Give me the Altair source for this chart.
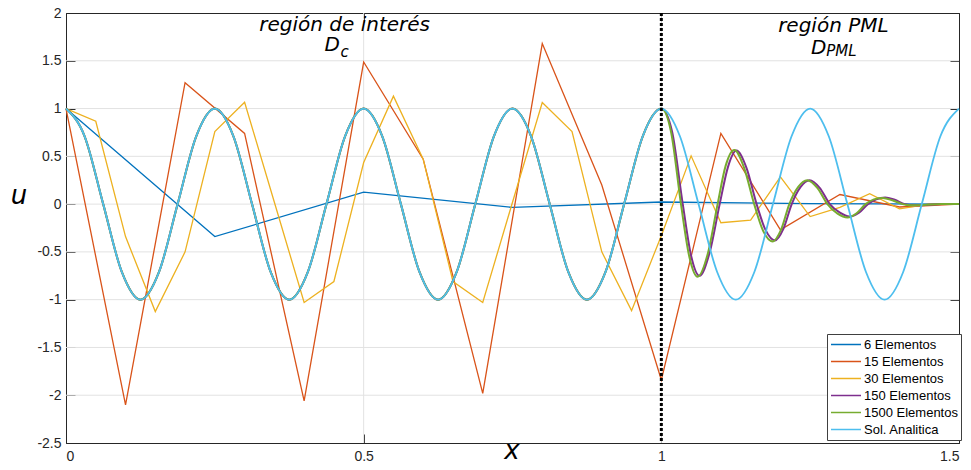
import altair as alt
import pandas as pd

SERIES = ["6 Elementos", "15 Elementos", "30 Elementos", "150 Elementos",
          "1500 Elementos", "Sol. Analitica"]
COLORS = ["#0072BD", "#D95319", "#EDB120", "#7E2F8E", "#77AC30", "#4DBEEE"]

X6 = [0.0, 0.25, 0.5, 0.75, 1.0, 1.25, 1.5]
U6 = [1.0, -0.34, 0.125, -0.035, 0.022, 0.005, 0.0]

X15 = [0.0, 0.1, 0.2, 0.3, 0.4, 0.5, 0.6, 0.7, 0.8, 0.9, 1.0, 1.1, 1.2, 1.3, 1.4, 1.5]
U15 = [1.0, -2.10, 1.27, 0.74, -2.06, 1.487, 0.47, -1.98, 1.68, 0.20,
       -1.84, 0.74, -0.27, 0.10, -0.03, 0.0]

X30 = [0.0, 0.05, 0.1, 0.15, 0.2, 0.25, 0.3, 0.35, 0.4, 0.45, 0.5, 0.55, 0.6, 0.65,
       0.7, 0.75, 0.8, 0.85, 0.9, 0.95, 1.0, 1.05, 1.1, 1.15, 1.2, 1.25, 1.3, 1.35,
       1.4, 1.45, 1.5]
U30 = [1.0, 0.867, -0.34, -1.125, -0.50, 0.76, 1.066, 0.02, -1.03, -0.81, 0.435,
       1.13, 0.47, -0.81, -1.03, 0.02, 1.063, 0.76, -0.50, -1.115, -0.33, 0.505,
       -0.195, -0.167, 0.285, -0.13, -0.035, 0.11, -0.05, 0.0, 0.0]

X_AN = [0.0, 0.03125, 0.0625, 0.09375, 0.125, 0.15625, 0.1875, 0.21875,
        0.25, 0.28125, 0.3125, 0.34375, 0.375, 0.40625, 0.4375, 0.46875,
        0.5, 0.53125, 0.5625, 0.59375, 0.625, 0.65625, 0.6875, 0.71875,
        0.75, 0.78125, 0.8125, 0.84375, 0.875, 0.90625, 0.9375, 0.96875,
        1.0, 1.03125, 1.0625, 1.09375, 1.125, 1.15625, 1.1875, 1.21875,
        1.25, 1.28125, 1.3125, 1.34375, 1.375, 1.40625, 1.4375, 1.46875, 1.5]
U_AN = [1.0, 0.71, 0.0, -0.71, -1.0, -0.71, 0.0, 0.71,
        1.0, 0.71, 0.0, -0.71, -1.0, -0.71, 0.0, 0.71,
        1.0, 0.71, 0.0, -0.71, -1.0, -0.71, 0.0, 0.71,
        1.0, 0.71, 0.0, -0.71, -1.0, -0.71, 0.0, 0.71,
        1.0, 0.71, 0.0, -0.71, -1.0, -0.71, 0.0, 0.71,
        1.0, 0.71, 0.0, -0.71, -1.0, -0.71, 0.0, 0.71, 1.0]

# numerical solutions inside the PML region (x > 1)
X1500_PML = [1.0165, 1.033, 1.047, 1.061, 1.078, 1.0945, 1.108, 1.1225, 1.139,
             1.156, 1.171, 1.187, 1.201, 1.215, 1.23, 1.245, 1.262, 1.279, 1.296,
             1.3126, 1.328, 1.343, 1.357, 1.372, 1.388, 1.405, 1.42, 1.44, 1.47, 1.5]
U1500_PML = [0.75, 0.0, -0.55, -0.76, -0.52, 0.0, 0.40, 0.565, 0.38,
             0.0, -0.28, -0.39, -0.27, 0.0, 0.18, 0.25, 0.17, 0.0, -0.10,
             -0.14, -0.095, 0.0, 0.05, 0.065, 0.04, 0.0, -0.012, -0.01, 0.0, 0.0]
X150_PML = [1.018, 1.036, 1.050, 1.064, 1.081, 1.098, 1.112, 1.126, 1.143,
            1.160, 1.175, 1.191, 1.205, 1.219, 1.234, 1.249, 1.266, 1.283, 1.300,
            1.316, 1.332, 1.347, 1.361, 1.376, 1.392, 1.409, 1.424, 1.444, 1.47, 1.5]
U150_PML = [0.76, 0.0, -0.54, -0.75, -0.51, 0.0, 0.39, 0.56, 0.38,
            0.0, -0.27, -0.38, -0.26, 0.0, 0.18, 0.25, 0.17, 0.0, -0.09,
            -0.13, -0.09, 0.0, 0.05, 0.07, 0.045, 0.0, -0.012, -0.01, 0.0, 0.0]

X_TICKS = [0.0, 0.5, 1.0, 1.5]
Y_TICKS = [-2.5, -2.0, -1.5, -1.0, -0.5, 0.0, 0.5, 1.0, 1.5, 2.0]
X_GRID = [0.5, 1.0]
Y_GRID = [-2.0, -1.5, -1.0, -0.5, 0.0, 0.5, 1.0, 1.5]
PML_START = [1.0]

ANN_TITLE = ["región de interés", "región PML"]
ANN_TITLE_X = [0.468, 1.289]
ANN_TITLE_Y = [1.81, 1.80]
ANN_D = ["D", "D"]
ANN_D_X = [0.447, 1.2645]
ANN_D_Y = [1.605, 1.57]
ANN_SUB = ["c", "PML"]
ANN_SUB_X = [0.461, 1.277]
ANN_SUB_Y = [1.54, 1.55]

# ---------------------------------------------------------------------------
rows = []
def add(name, xs, us):
    for a, b in zip(xs, us):
        rows.append({"series": name, "x": a, "u": b})

add(SERIES[0], X6, U6)
add(SERIES[1], X15, U15)
add(SERIES[2], X30, U30)
n_in = X_AN.index(1.0) + 1
add(SERIES[3], X_AN[:n_in] + X150_PML, U_AN[:n_in] + U150_PML)
add(SERIES[4], X_AN[:n_in] + X1500_PML, U_AN[:n_in] + U1500_PML)
add(SERIES[5], X_AN, U_AN)
df = pd.DataFrame(rows)

XS = alt.Scale(domain=[0, 1.5], nice=False, zero=False)
YS = alt.Scale(domain=[-2.5, 2], nice=False, zero=False)
CS = alt.Scale(domain=SERIES, range=COLORS)

AX_COMMON = dict(grid=False, domain=False, tickColor="#262626", tickSize=9,
                 tickWidth=1, offset=-9, title=None)
ax_bottom = alt.Axis(orient="bottom", values=X_TICKS, labelExpr="datum.value + ''",
                     labelFont="Liberation Sans", labelFontSize=14,
                     labelColor="#262626", labelPadding=6, **AX_COMMON)
ax_top = alt.Axis(orient="top", values=X_TICKS, labels=False, **AX_COMMON)
ax_left = alt.Axis(orient="left", values=Y_TICKS, labelExpr="datum.value + ''",
                   labelFont="Liberation Sans", labelFontSize=14,
                   labelColor="#262626", labelPadding=5, **AX_COMMON)
ax_right = alt.Axis(orient="right", values=Y_TICKS, labels=False, **AX_COMMON)

legend = alt.Legend(title=None, orient="none", legendX=761, legendY=321,
                    symbolType="stroke", symbolSize=900, symbolStrokeWidth=1.5,
                    clipHeight=15, rowPadding=2, padding=3,
                    labelFont="Liberation Sans", labelFontSize=13,
                    labelColor="#000000", labelOffset=2, symbolOffset=0,
                    fillColor="white", strokeColor="#404040", cornerRadius=0)

grid_h = alt.Chart(pd.DataFrame({"g": Y_GRID})).mark_rule(
    color="#e2e2e2", strokeWidth=1).encode(
    y=alt.Y("g:Q", scale=YS, axis=ax_left))
grid_v = alt.Chart(pd.DataFrame({"g": X_GRID})).mark_rule(
    color="#e2e2e2", strokeWidth=1).encode(
    x=alt.X("g:Q", scale=XS, axis=ax_bottom))

widths = [1.3, 1.3, 1.3, 2.0, 2.0, 1.8]
interps = ["linear", "linear", "linear", "monotone", "monotone", "monotone"]
line_layers = []
for i, name in enumerate(SERIES):
    yax = ax_right if i == len(SERIES) - 1 else None
    ly = alt.Chart(df[df["series"] == name]).mark_line(
        strokeWidth=widths[i], interpolate=interps[i]).encode(
        x=alt.X("x:Q", scale=XS, axis=None),
        y=alt.Y("u:Q", scale=YS, axis=yax),
        color=alt.Color("series:N", scale=CS, legend=legend))
    line_layers.append(ly)

pml = alt.Chart(pd.DataFrame({"p": PML_START})).mark_rule(
    color="black", strokeWidth=3, strokeDash=[3, 2]).encode(
    x=alt.X("p:Q", scale=XS, axis=ax_top))

ann_title = alt.Chart(pd.DataFrame({"t": ANN_TITLE, "x": ANN_TITLE_X, "y": ANN_TITLE_Y})).mark_text(
    font="DejaVu Sans", fontStyle="italic", fontSize=20, align="center",
    baseline="alphabetic", color="black").encode(
    x=alt.X("x:Q", scale=XS, axis=None), y=alt.Y("y:Q", scale=YS, axis=None), text="t:N")
ann_d = alt.Chart(pd.DataFrame({"t": ANN_D, "x": ANN_D_X, "y": ANN_D_Y})).mark_text(
    font="DejaVu Sans", fontStyle="italic", fontSize=20, align="center",
    baseline="alphabetic", color="black").encode(
    x=alt.X("x:Q", scale=XS, axis=None), y=alt.Y("y:Q", scale=YS, axis=None), text="t:N")
ann_sub = alt.Chart(pd.DataFrame({"t": ANN_SUB, "x": ANN_SUB_X, "y": ANN_SUB_Y})).mark_text(
    font="DejaVu Sans", fontStyle="italic", fontSize=15, align="left",
    baseline="alphabetic", color="black").encode(
    x=alt.X("x:Q", scale=XS, axis=None), y=alt.Y("y:Q", scale=YS, axis=None), text="t:N")

title_u = alt.Chart(pd.DataFrame({"t": ["u"]})).mark_text(
    font="DejaVu Sans", fontStyle="italic", fontSize=26, align="center",
    baseline="alphabetic", color="black").encode(
    x=alt.value(-47), y=alt.value(191), text="t:N")
title_x = alt.Chart(pd.DataFrame({"t": ["x"]})).mark_text(
    font="DejaVu Sans", fontStyle="italic", fontSize=26, align="center",
    baseline="alphabetic", color="black").encode(
    x=alt.value(446), y=alt.value(446), text="t:N")

chart = alt.layer(grid_h, grid_v, *line_layers, pml, ann_title, ann_d, ann_sub,
                  title_u, title_x).resolve_axis(
    x="independent", y="independent").properties(
    width=893, height=430,
    autosize=alt.AutoSizeParams(type="none"),
    padding={"left": 58, "top": 5, "right": 4, "bottom": 19},
    background="white",
).configure_view(stroke="#262626", strokeWidth=1)

chart.save("out.html", embed_options={"renderer": "svg", "actions": False})
